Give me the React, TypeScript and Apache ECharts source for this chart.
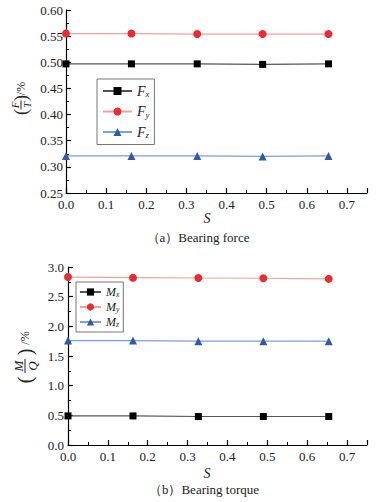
import React, { useEffect, useRef } from "react";
import * as echarts from "echarts";

const sValues = [0, 0.163, 0.327, 0.49, 0.654];
const forceFx = [0.497, 0.497, 0.497, 0.496, 0.497];
const forceFy = [0.555, 0.555, 0.554, 0.554, 0.554];
const forceFz = [0.321, 0.321, 0.321, 0.32, 0.321];
const torqueMx = [0.49, 0.49, 0.48, 0.48, 0.48];
const torqueMy = [2.83, 2.82, 2.815, 2.81, 2.8];
const torqueMz = [1.76, 1.76, 1.75, 1.75, 1.75];
const captionA = "（a）Bearing force";
const captionB = "（b）Bearing torque";

const SERIF = "Liberation Serif";

function pairs(ys: number[]) {
  return sValues.map((x, i) => [x, ys[i]]);
}

function axisCommon() {
  return {
    axisLine: { show: true, onZero: false, lineStyle: { color: "#000", width: 1.2 } },
    axisTick: { show: true, inside: true, length: 5, lineStyle: { color: "#000", width: 1.2 } },
    minorTick: { show: true, splitNumber: 2, length: 3, lineStyle: { color: "#000", width: 1 } },
    splitLine: { show: false },
    minorSplitLine: { show: false },
  };
}

function txt(text: string, x: number, y: number, fs: number, italic: boolean) {
  return {
    type: "text",
    x,
    y,
    style: {
      text,
      fill: "#222",
      fontFamily: SERIF,
      fontSize: fs,
      fontStyle: italic ? "italic" : "normal",
      textAlign: "center",
      textVerticalAlign: "middle",
    },
  };
}

function fracLabel(cx: number, cy: number, num: string, den: string, o: { pl: number; pr: number; fr: number; pc: number; half: number; bar: number; fs: number; pfs: number }) {
  return {
    type: "group",
    x: cx,
    y: cy,
    rotation: Math.PI / 2,
    children: [
      txt("(", o.pl, 0, o.pfs, false),
      txt(num, o.fr, -o.half, o.fs, true),
      txt(den, o.fr, o.half, o.fs, true),
      {
        type: "line",
        shape: { x1: o.fr - o.bar / 2, y1: 0, x2: o.fr + o.bar / 2, y2: 0 },
        style: { stroke: "#222", lineWidth: 1 },
      },
      txt(")", o.pr, 0, o.pfs, false),
      txt("/%", o.pc, 0, 12, false),
    ],
  };
}

export default function App() {
  const ref = useRef<HTMLDivElement>(null);
  useEffect(() => {
    document.body.style.margin = "0";
    if (!ref.current) return;
    const chart = echarts.init(ref.current, undefined, { renderer: "svg" });
    const lineSeries = (
      name: string,
      ys: number[],
      idx: number,
      symbol: string,
      size: number,
      color: string,
      lineColor: string
    ) => ({
      name,
      type: "line",
      xAxisIndex: idx,
      yAxisIndex: idx,
      data: pairs(ys),
      symbol,
      symbolSize: size,
      showAllSymbol: true,
      clip: false,
      itemStyle: { color, borderWidth: 0 },
      lineStyle: { color: lineColor, width: 1.2 },
      emphasis: { disabled: true },
    });
    const legendRich = (fs: number) => ({
      i: { fontFamily: SERIF, fontStyle: "italic", fontSize: fs, color: "#222" },
      s: { fontFamily: SERIF, fontStyle: "italic", fontSize: fs * 0.62, color: "#222", padding: [Math.round(fs * 0.45), 0, 0, 0] },
    });
    const legendFmt = (n: string) => `{i|${n[0]}}{s|${n.slice(1)}}`;
    const labelStyle = { color: "#222", fontFamily: SERIF, fontSize: 13 };
    const option: any = {
      animation: false,
      backgroundColor: "#fff",
      textStyle: { fontFamily: SERIF },
      grid: [
        { left: 66, top: 10, width: 301, height: 183, containLabel: false },
        { left: 68, top: 267, width: 299, height: 178, containLabel: false },
      ],
      xAxis: [0, 1].map((g) => ({
        type: "value",
        gridIndex: g,
        min: 0,
        max: 0.75,
        interval: 0.1,
        ...axisCommon(),
        axisLabel: {
          ...labelStyle,
          margin: 5,
          showMaxLabel: false,
          formatter: (v: number) => v.toFixed(1),
        },
      })),
      yAxis: [
        {
          type: "value",
          gridIndex: 0,
          min: 0.25,
          max: 0.6,
          interval: 0.05,
          ...axisCommon(),
          axisLabel: { ...labelStyle, margin: 3, formatter: (v: number) => v.toFixed(2) },
        },
        {
          type: "value",
          gridIndex: 1,
          min: 0,
          max: 3,
          interval: 0.5,
          ...axisCommon(),
          axisLabel: { ...labelStyle, margin: 4, formatter: (v: number) => v.toFixed(1) },
        },
      ],
      legend: [
        {
          data: ["Fx", "Fy", "Fz"],
          left: 97,
          top: 79,
          orient: "vertical",
          borderColor: "#777",
          borderWidth: 1,
          padding: [5, 5, 5, 5],
          itemGap: 6,
          itemWidth: 29,
          itemHeight: 10,
          formatter: legendFmt,
          textStyle: { rich: legendRich(14) },
          selectedMode: false,
        },
        {
          data: ["Mx", "My", "Mz"],
          left: 76,
          top: 282,
          orient: "vertical",
          borderColor: "#777",
          borderWidth: 1,
          padding: [4, 4, 4, 3],
          itemGap: 3,
          itemWidth: 21,
          itemHeight: 9,
          formatter: legendFmt,
          textStyle: { rich: legendRich(12) },
          selectedMode: false,
        },
      ],
      series: [
        lineSeries("Fx", forceFx, 0, "rect", 7, "#000", "#555"),
        lineSeries("Fy", forceFy, 0, "circle", 8, "#ee2a2f", "#f4a0a0"),
        lineSeries("Fz", forceFz, 0, "triangle", 8, "#2f5aa8", "#7f9fd8"),
        lineSeries("Mx", torqueMx, 1, "rect", 7, "#000", "#555"),
        lineSeries("My", torqueMy, 1, "circle", 8, "#ee2a2f", "#f4a0a0"),
        lineSeries("Mz", torqueMz, 1, "triangle", 8, "#2f5aa8", "#7f9fd8"),
      ],
      graphic: [
        txt("S", 207, 218, 14, true),
        txt("S", 207, 473, 14, true),
        txt(captionA, 198, 237, 13, false),
        txt(captionB, 204, 489, 13, false),
        fracLabel(21, 97, "F", "T", { pl: -15, pr: -1, fr: -8, pc: 8.5, half: 6, bar: 9, fs: 11, pfs: 18 }),
        fracLabel(25, 356, "M", "Q", { pl: -24, pr: 4, fr: -10, pc: 18, half: 7, bar: 14, fs: 13, pfs: 20 }),
      ],
    };
    chart.setOption(option);
    return () => chart.dispose();
  }, []);
  return <div ref={ref} style={{ width: 385, height: 502 }} />;
}
